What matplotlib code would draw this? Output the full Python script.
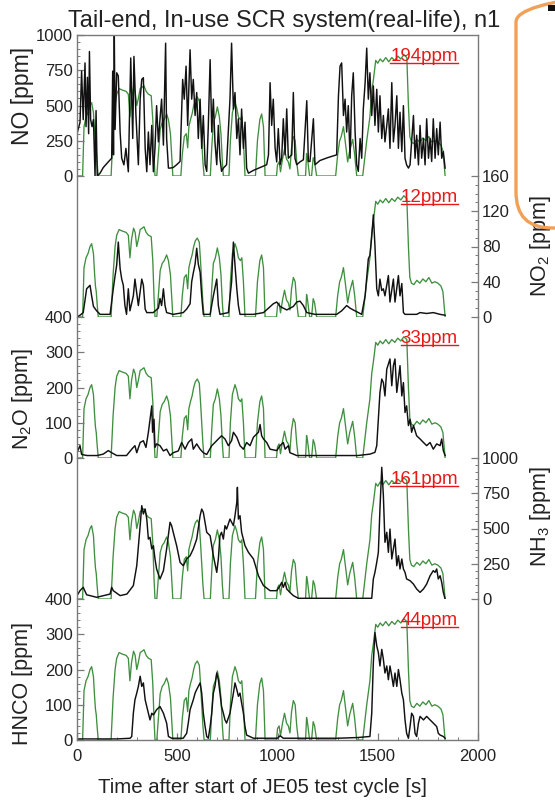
import matplotlib
matplotlib.use('Agg')
import matplotlib.pyplot as plt
from matplotlib.patches import FancyBboxPatch, Rectangle
from matplotlib.lines import Line2D
from matplotlib.ticker import MultipleLocator
import matplotlib.transforms as mtransforms

plt.rcParams['font.family'] = ['Liberation Sans', 'DejaVu Sans']
plt.rcParams['mathtext.fontset'] = 'custom'
plt.rcParams['mathtext.rm'] = 'Liberation Sans'
plt.rcParams['mathtext.it'] = 'Liberation Sans:italic'
plt.rcParams['mathtext.bf'] = 'Liberation Sans:bold'

# ---------------- data ----------------
title = "Tail-end, In-use SCR system(real-life), n1"
xlabel = "Time after start of JE05 test cycle [s]"
x_ticks = [0, 500, 1000, 1500, 2000]

# green trace (same in all panels, % of panel height)
speed_t = [0, 28, 35, 45, 55, 65, 73, 82, 88, 92, 96, 100, 106, 170, 180, 190, 198, 210, 225, 245,
           256, 264, 272, 282, 290, 298, 306, 315, 325, 334, 345, 356, 370, 378, 384, 389, 398, 408, 415, 425,
           435, 447, 456, 466, 472, 478, 518, 525, 535, 545, 552, 558, 566, 574, 582, 590, 600, 610, 616, 622,
           628, 634, 665, 672, 680, 690, 700, 710, 718, 725, 730, 758, 765, 775, 788, 797, 805, 815, 822, 830,
           838, 890, 900, 912, 921, 930, 938, 995, 1000, 1008, 1015, 1025, 1035, 1045, 1054, 1062, 1070, 1079, 1088, 1096,
           1104, 1140, 1145, 1150, 1160, 1170, 1178, 1185, 1195, 1290, 1300, 1310, 1318, 1329, 1340, 1350, 1360, 1375, 1385, 1395,
           1425, 1445, 1461, 1470, 1478, 1490, 1500, 1512, 1525, 1540, 1555, 1570, 1585, 1600, 1615, 1630, 1645, 1653, 1660, 1668,
           1680, 1695, 1710, 1725, 1740, 1755, 1770, 1785, 1800, 1815, 1825, 1830, 1836]
speed = [0, 0, 35, 42, 45, 50, 52, 45, 30, 22, 18, 10, 0, 0, 30, 50, 58, 62, 61, 60,
         58, 42, 55, 63, 60, 50, 55, 62, 63, 64, 60, 58, 57, 40, 15, 0, 0, 20, 33, 38,
         40, 44, 40, 30, 15, 0, 0, 15, 28, 30, 20, 35, 40, 44, 50, 54, 56, 53, 40, 25,
         10, 0, 0, 20, 38, 42, 49, 42, 30, 10, 0, 0, 25, 45, 52, 48, 42, 40, 42, 25,
         0, 0, 25, 40, 44, 35, 0, 0, 8, 10, 3, 12, 19, 12, 10, 5, 20, 28, 25, 10,
         0, 0, 16, 12, 0, 0, 13, 10, 0, 0, 15, 25, 28, 35, 22, 10, 18, 26, 15, 0,
         0, 25, 42, 60, 68, 82, 80, 83, 81, 84, 81, 84, 82, 85, 83, 86, 84, 50, 28, 24,
         23, 26, 24, 27, 25, 28, 24, 25, 24, 22, 18, 10, 0]

no_t = [0, 15, 23, 31, 40, 45, 52, 58, 62, 68, 75, 82, 90, 95, 101, 115, 131, 156, 173, 178,
        182, 186, 190, 198, 206, 215, 223, 234, 244, 256, 268, 278, 284, 294, 306, 315, 323, 331, 340, 348,
        356, 364, 373, 381, 389, 397, 406, 414, 422, 431, 442, 447, 456, 464, 480, 497, 514, 527, 535, 544,
        552, 564, 572, 580, 589, 597, 605, 614, 622, 630, 639, 647, 655, 664, 672, 680, 688, 697, 705, 713,
        721, 730, 746, 763, 771, 780, 788, 797, 805, 813, 821, 830, 838, 846, 855, 880, 913, 946, 955, 963,
        971, 979, 988, 996, 1004, 1013, 1021, 1029, 1038, 1046, 1054, 1071, 1079, 1087, 1096, 1112, 1129, 1146, 1154, 1162,
        1179, 1187, 1212, 1250, 1295, 1304, 1312, 1320, 1329, 1337, 1345, 1353, 1362, 1370, 1378, 1387, 1395, 1403, 1412, 1420,
        1428, 1437, 1445, 1453, 1461, 1470, 1478, 1486, 1495, 1503, 1511, 1520, 1528, 1536, 1545, 1553, 1561, 1570, 1578, 1586,
        1595, 1603, 1611, 1620, 1628, 1636, 1644, 1653, 1661, 1669, 1678, 1686, 1694, 1703, 1711, 1719, 1728, 1736, 1744, 1753,
        1761, 1769, 1777, 1786, 1794, 1802, 1811, 1819, 1827, 1836]
no_ppm = [300, 380, 744, 400, 802, 350, 700, 300, 883, 400, 350, 400, 0, 464, 0, 20, 60, 100, 126, 744,
          150, 1000, 330, 732, 710, 312, 126, 79, 196, 30, 837, 266, 848, 429, 80, 545, 685, 697, 196, 30,
          312, 80, 359, 30, 196, 499, 242, 406, 545, 219, 942, 266, 56, 56, 60, 80, 103, 685, 545, 779,
          359, 895, 545, 685, 429, 592, 266, 545, 196, 429, 80, 33, 359, 825, 312, 545, 242, 80, 359, 126,
          33, 56, 80, 545, 942, 475, 592, 266, 406, 150, 475, 196, 382, 56, 20, 40, 60, 80, 150, 662,
          359, 545, 200, 100, 336, 80, 130, 406, 150, 476, 126, 150, 592, 126, 80, 100, 115, 534, 103, 103,
          406, 80, 110, 130, 150, 569, 779, 802, 429, 545, 312, 499, 126, 569, 732, 312, 80, 33, 266, 126,
          476, 662, 907, 545, 732, 429, 639, 359, 615, 312, 569, 266, 429, 242, 359, 476, 196, 662, 242, 359,
          569, 196, 452, 173, 499, 126, 79, 56, 79, 242, 429, 126, 289, 79, 359, 126, 266, 79, 406, 126,
          266, 103, 406, 126, 336, 150, 382, 126, 173, 56]

no2_t = [0, 15, 31, 48, 65, 73, 82, 98, 115, 165, 181, 190, 198, 206, 215, 223, 231, 239, 247, 256,
         264, 281, 289, 306, 323, 331, 340, 348, 380, 406, 414, 422, 431, 439, 447, 480, 530, 547, 564, 572,
         580, 589, 597, 605, 614, 622, 630, 664, 680, 697, 705, 713, 755, 771, 780, 788, 797, 805, 813, 880,
         930, 955, 979, 996, 1013, 1046, 1079, 1096, 1112, 1129, 1146, 1187, 1295, 1320, 1345, 1362, 1378, 1395, 1420, 1437,
         1445, 1453, 1461, 1470, 1478, 1486, 1495, 1503, 1511, 1520, 1528, 1536, 1553, 1561, 1578, 1586, 1603, 1611, 1620, 1628,
         1636, 1694, 1711, 1744, 1777, 1811, 1836]
no2_ppm = [0, 2, 5, 32, 36, 24, 12, 7, 3, 3, 32, 47, 59, 85, 55, 43, 36, 13, 3, 32,
           7, 24, 43, 13, 43, 36, 9, 5, 5, 10, 21, 13, 32, 13, 5, 3, 5, 9, 15, 40,
           50, 60, 78, 60, 51, 24, 3, 3, 24, 43, 13, 3, 5, 40, 85, 59, 32, 13, 3, 3,
           5, 10, 15, 17, 12, 8, 12, 17, 18, 13, 5, 3, 3, 7, 13, 10, 8, 6, 3, 24,
           45, 66, 70, 91, 116, 81, 32, 24, 43, 30, 32, 24, 47, 17, 43, 17, 47, 24, 38, 5,
           3, 3, 5, 4, 5, 3, 2]

n2o_t = [0, 15, 23, 50, 100, 131, 156, 173, 198, 247, 273, 289, 298, 315, 331, 344, 356, 373, 377, 384,
         389, 397, 414, 431, 447, 464, 480, 505, 522, 539, 555, 572, 580, 597, 614, 630, 647, 672, 688, 705,
         721, 738, 755, 771, 780, 797, 813, 830, 846, 863, 880, 905, 913, 921, 930, 946, 963, 996, 1013, 1029,
         1038, 1054, 1062, 1096, 1200, 1300, 1400, 1461, 1486, 1495, 1511, 1520, 1528, 1536, 1545, 1561, 1570, 1578, 1586, 1595,
         1603, 1611, 1620, 1628, 1636, 1644, 1653, 1661, 1669, 1678, 1694, 1711, 1728, 1744, 1761, 1777, 1794, 1811, 1819, 1827,
         1836]
n2o_ppm = [16, 35, 10, 7, 7, 11, 21, 15, 7, 7, 25, 35, 15, 44, 49, 30, 73, 148, 73, 110,
           30, 40, 35, 20, 25, 7, 15, 20, 44, 25, 44, 54, 25, 40, 25, 15, 10, 35, 44, 54,
           63, 54, 35, 49, 73, 59, 35, 25, 44, 35, 59, 73, 95, 63, 54, 44, 25, 21, 35, 44,
           25, 35, 15, 7, 7, 7, 7, 11, 16, 35, 186, 224, 214, 176, 252, 281, 205, 262, 281, 186,
           224, 262, 176, 214, 129, 148, 92, 110, 73, 92, 63, 54, 44, 35, 44, 25, 40, 35, 54, 21,
           7]

nh3_t = [0, 15, 31, 48, 65, 98, 165, 173, 181, 215, 249, 281, 298, 315, 323, 331, 340, 348, 356, 364,
         373, 381, 389, 397, 414, 431, 447, 464, 472, 480, 497, 514, 530, 547, 564, 580, 597, 614, 622, 630,
         647, 664, 680, 697, 705, 713, 721, 730, 738, 746, 763, 780, 788, 797, 800, 805, 813, 821, 838, 855,
         880, 905, 930, 963, 996, 1013, 1021, 1029, 1038, 1046, 1062, 1079, 1104, 1300, 1470, 1478, 1486, 1495, 1503, 1511,
         1520, 1528, 1536, 1545, 1553, 1561, 1570, 1578, 1586, 1595, 1603, 1611, 1620, 1628, 1636, 1644, 1661, 1678, 1694, 1711,
         1728, 1744, 1761, 1777, 1786, 1794, 1802, 1811, 1819, 1827, 1836]
nh3_ppm = [24, 59, 83, 30, 24, 12, 35, 83, 59, 24, 35, 95, 236, 520, 662, 603, 638, 567, 425, 437,
           355, 378, 284, 213, 142, 201, 355, 544, 520, 473, 378, 260, 236, 284, 307, 355, 425, 591, 638, 615,
           473, 449, 307, 189, 284, 449, 473, 425, 520, 496, 567, 520, 591, 686, 792, 567, 591, 473, 378, 331,
           284, 165, 95, 59, 59, 95, 118, 83, 118, 71, 47, 24, 5, 5, 5, 142, 189, 260, 331, 638,
           934, 733, 402, 473, 331, 496, 284, 355, 425, 236, 307, 213, 284, 213, 189, 142, 130, 106, 71, 47,
           71, 106, 165, 201, 189, 213, 142, 165, 118, 47, 0]

hnco_t = [0, 100, 200, 265, 273, 281, 289, 298, 306, 315, 323, 331, 340, 348, 356, 364, 373, 381, 397, 414,
          431, 447, 456, 472, 530, 547, 555, 564, 580, 589, 597, 614, 622, 630, 639, 647, 655, 664, 672, 680,
          688, 697, 705, 713, 721, 730, 738, 746, 763, 780, 788, 797, 805, 813, 821, 830, 838, 846, 880, 1000,
          1013, 1029, 1200, 1300, 1400, 1461, 1470, 1478, 1486, 1495, 1503, 1511, 1520, 1528, 1536, 1545, 1553, 1561, 1570, 1578,
          1586, 1595, 1603, 1611, 1620, 1628, 1636, 1644, 1653, 1661, 1669, 1678, 1686, 1694, 1703, 1711, 1728, 1744, 1761, 1777,
          1794, 1802, 1811, 1827, 1836]
hnco_ppm = [3, 3, 3, 5, 10, 76, 114, 133, 152, 181, 152, 162, 114, 95, 76, 57, 76, 71, 86, 95,
            76, 48, 10, 5, 5, 19, 48, 86, 114, 133, 143, 162, 133, 76, 38, 10, 5, 38, 76, 133,
            152, 190, 171, 133, 95, 76, 57, 48, 76, 133, 162, 143, 124, 133, 105, 76, 38, 14, 5, 5,
            12, 5, 5, 5, 7, 10, 76, 219, 305, 267, 248, 210, 257, 229, 190, 210, 171, 210, 181, 152,
            190, 152, 200, 171, 133, 114, 57, 19, 5, 38, 76, 67, 19, 10, 48, 67, 57, 67, 57, 48,
            38, 19, 14, 10, 5]

panel_labels = ["NO [ppm]", "NO$_2$ [ppm]", "N$_2$O [ppm]", "NH$_3$ [ppm]", "HNCO [ppm]"]
panel_means = ["194ppm", "12ppm", "33ppm", "161ppm", "44ppm"]
panel_ymax = [1000, 160, 400, 1000, 400]
panel_major = [250, 40, 100, 250, 100]
panel_minor = [50, 10, 20, 50, 20]
panel_side = ["left", "right", "left", "right", "left"]
panel_series = [(no_t, no_ppm), (no2_t, no2_ppm), (n2o_t, n2o_ppm), (nh3_t, nh3_ppm), (hnco_t, hnco_ppm)]
label_ypos = [0.57, 0.5, 0.42, 0.58, 0.4]
label_size = [16.5, 15.5, 15.5, 15.5, 15.5]

# ---------------- figure ----------------
W, Hpx = 555, 800
fig = plt.figure(figsize=(W / 100, Hpx / 100), dpi=100)
L, R = 77 / W, 478 / W
TOP, BOT = 1 - 35 / Hpx, 1 - 740 / Hpx
PH = (TOP - BOT) / 5
spine_c = '#7a7a7a'
text_c = '#222222'
green_c = '#3f8f3f'
red_c = '#e81818'

axes = []
texts = []
for i in range(5):
    y0 = TOP - (i + 1) * PH
    axg = fig.add_axes([L, y0, R - L, PH])
    axg.plot(speed_t, speed, color=green_c, lw=0.95)
    axg.set_xlim(0, 2000)
    axg.set_ylim(0, 100)
    axg.axis('off')

    ax = fig.add_axes([L, y0, R - L, PH])
    ax.patch.set_visible(False)
    t, v = panel_series[i]
    ax.plot(t, v, color='#111111', lw=1.05)
    ax.set_xlim(0, 2000)
    ax.set_ylim(0, panel_ymax[i])
    for s in ax.spines.values():
        s.set_color(spine_c)
        s.set_linewidth(1.0)
    ax.spines['top'].set_visible(i == 0)
    ax.spines['bottom'].set_visible(i == 4)
    ax.yaxis.set_major_locator(MultipleLocator(panel_major[i]))
    ax.yaxis.set_minor_locator(MultipleLocator(panel_minor[i]))
    side = panel_side[i]
    if side == 'left':
        ax.yaxis.set_ticks_position('left')
        ax.yaxis.set_label_position('left')
        ax.yaxis.set_label_coords(-0.137, label_ypos[i])
    else:
        ax.yaxis.set_ticks_position('right')
        ax.yaxis.set_label_position('right')
        ax.yaxis.set_label_coords(1.155, label_ypos[i])
    ax.set_ylabel(panel_labels[i], fontsize=label_size[i], color=text_c, rotation=90, va='center', ha='center')
    ax.tick_params(axis='y', which='major', direction='in', length=5, width=0.9, color=spine_c,
                   labelsize=12, labelcolor=text_c, pad=3)
    ax.tick_params(axis='y', which='minor', direction='in', length=2.5, width=0.7, color=spine_c)
    if i == 4:
        ax.set_xticks(x_ticks)
        ax.xaxis.set_minor_locator(MultipleLocator(100))
        ax.tick_params(axis='x', which='major', direction='in', length=5, width=0.9, color=spine_c,
                       labelsize=12, labelcolor=text_c, pad=6.5)
        ax.tick_params(axis='x', which='minor', direction='in', length=2.5, width=0.7, color=spine_c)
    else:
        ax.tick_params(axis='x', which='both', bottom=False, top=False, labelbottom=False)
    txt = ax.text(1900, 0.815, panel_means[i], transform=mtransforms.blended_transform_factory(ax.transData, ax.transAxes),
                  ha='right', va='baseline', color=red_c, fontsize=13.5)
    axes.append(ax)
    texts.append(txt)

fig.text(284 / W, 1 - 27 / Hpx, title, ha='center', va='baseline', fontsize=17, color=text_c)
fig.text(262.5 / W, 1 - 793 / Hpx, xlabel, ha='center', va='baseline', fontsize=14.7, color=text_c)

# underline of the red values
fig.canvas.draw()
renderer = fig.canvas.get_renderer()
inv = fig.transFigure.inverted()
for ax, txt in zip(axes, texts):
    bb = txt.get_window_extent(renderer)
    base = ax.transAxes.transform((0, 0.815))[1] - 2.0
    p0 = inv.transform((bb.x0, base))
    p1 = inv.transform((bb.x1, base))
    fig.add_artist(Line2D([p0[0], p1[0]], [p0[1], p1[1]], color=red_c, lw=1.0, transform=fig.transFigure))

# orange rounded frame (partially visible) and bullet at top right
box = FancyBboxPatch((516, 572), 400, 242, boxstyle='round,pad=0,rounding_size=36',
                     transform=mtransforms.IdentityTransform(), facecolor='none',
                     edgecolor='#f2a055', linewidth=2.4, clip_on=False)
fig.add_artist(box)
fig.add_artist(Rectangle((548, 789), 7, 6, transform=mtransforms.IdentityTransform(),
                         facecolor='#111111', edgecolor='none'))

fig.savefig('out.png', dpi=100)
